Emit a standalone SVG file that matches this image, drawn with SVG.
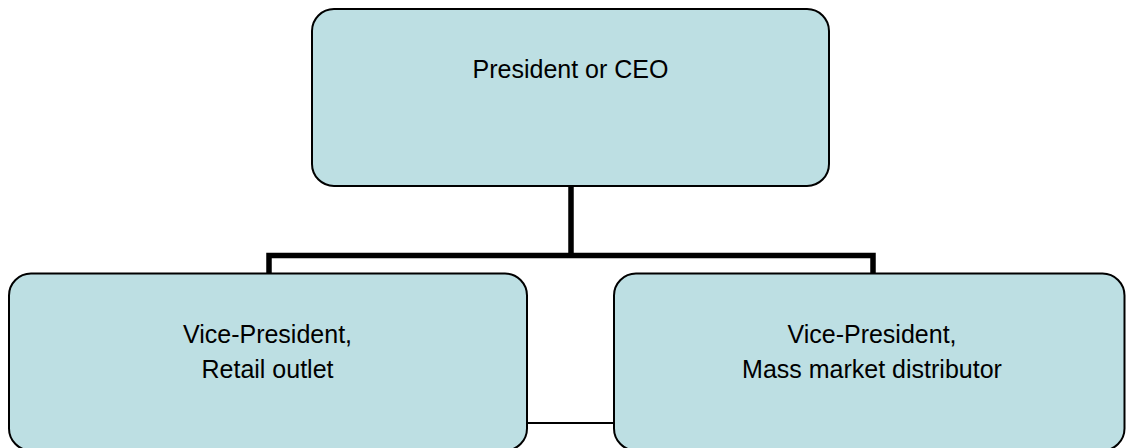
<svg xmlns="http://www.w3.org/2000/svg" width="1126" height="448" viewBox="0 0 1126 448">
<style>
.box{fill:#bddfe3;stroke:#000;stroke-width:2}
.lbl{font-family:"Liberation Sans",Arial,sans-serif;font-size:25px;fill:#000;text-anchor:middle}
.thick{stroke:#000;stroke-width:5.5;fill:none}
.thin{stroke:#000;stroke-width:2;fill:none}
</style>
<rect width="1126" height="448" fill="#fff"/>
<g id="connectors">
<path class="thick" d="M571 186 V255.5 M269 273 V255.5 H873 V273"/>
<line class="thin" x1="527" y1="423" x2="614" y2="423"/>
</g>
<g id="ceo">
<rect class="box" x="312" y="9" width="517" height="177" rx="22" ry="22"/>
<text class="lbl" x="570.5" y="78">President or CEO</text>
</g>
<g id="vp-retail">
<rect class="box" x="9" y="273.5" width="518" height="177" rx="22" ry="22"/>
<text class="lbl" x="267.5" y="343">Vice-President,</text>
<text class="lbl" x="267.5" y="378">Retail outlet</text>
</g>
<g id="vp-mass">
<rect class="box" x="614" y="273.5" width="510.5" height="177" rx="22" ry="22"/>
<text class="lbl" x="872" y="343">Vice-President,</text>
<text class="lbl" x="872" y="378">Mass market distributor</text>
</g>
</svg>
